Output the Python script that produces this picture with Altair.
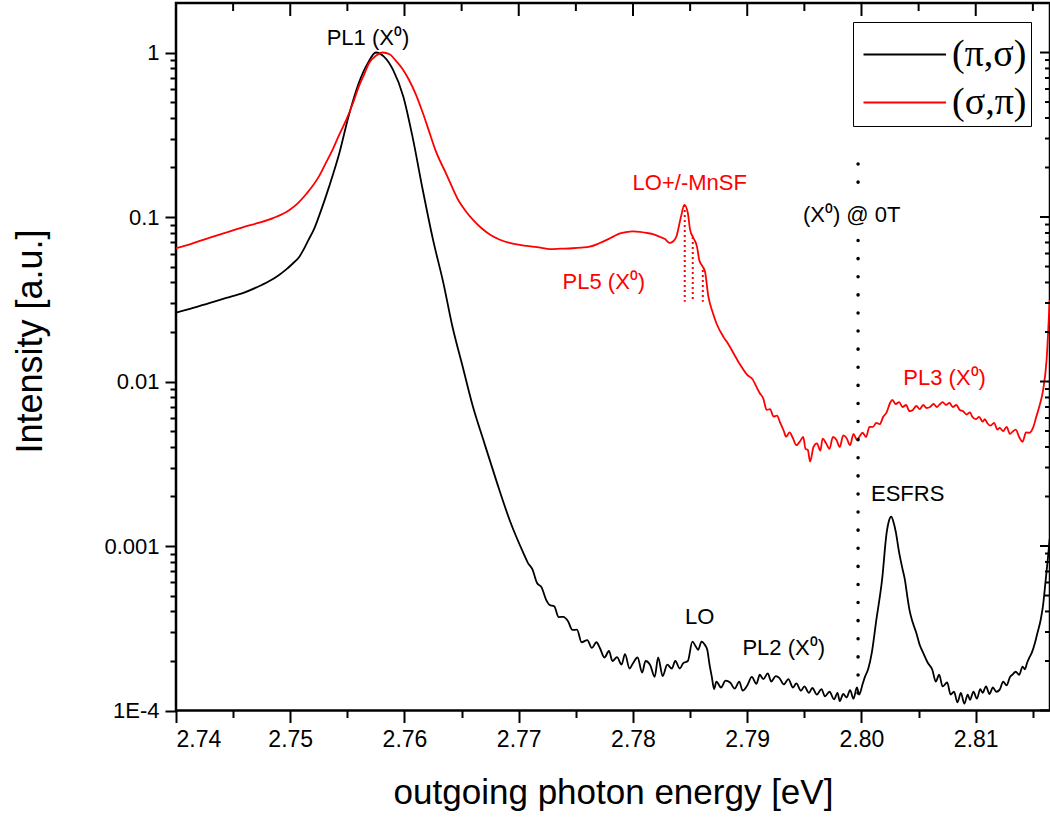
import altair as alt
import pandas as pd

# ---------------- data ----------------
E_black = [2.7400, 2.7415, 2.7429, 2.7444, 2.7459, 2.7470, 2.7481, 2.7489, 2.7496, 2.7502,
           2.7508, 2.7512, 2.7516, 2.7521, 2.7525, 2.7534, 2.7543, 2.7551, 2.7560, 2.7568,
           2.7575, 2.7582, 2.7590, 2.7599, 2.7607, 2.7616, 2.7625, 2.7634, 2.7642, 2.7651,
           2.7660, 2.7669, 2.7681, 2.7692, 2.7704, 2.7708, 2.7712, 2.7716, 2.7720, 2.7724,
           2.7727, 2.7731, 2.7735, 2.7739, 2.7743, 2.7747, 2.7751, 2.7755, 2.7760, 2.7764,
           2.7768, 2.7771, 2.7775, 2.7779, 2.7782, 2.7786, 2.7790, 2.7793, 2.7797, 2.7800,
           2.7804, 2.7808, 2.7811, 2.7815, 2.7819, 2.7822, 2.7826, 2.7830, 2.7834, 2.7837,
           2.7841, 2.7844, 2.7848, 2.7852, 2.7855, 2.7857, 2.7860, 2.7863, 2.7865, 2.7867,
           2.7869, 2.7871, 2.7873, 2.7877, 2.7881, 2.7885, 2.7889, 2.7893, 2.7896, 2.7900,
           2.7904, 2.7908, 2.7911, 2.7914, 2.7918, 2.7921, 2.7925, 2.7928, 2.7932, 2.7936,
           2.7940, 2.7943, 2.7947, 2.7950, 2.7954, 2.7957, 2.7961, 2.7965, 2.7968, 2.7972,
           2.7976, 2.7979, 2.7981, 2.7984, 2.7987, 2.7990, 2.7993, 2.7996, 2.7998, 2.8001,
           2.8003, 2.8006, 2.8009, 2.8013, 2.8018, 2.8022, 2.8024, 2.8026, 2.8028, 2.8030,
           2.8033, 2.8036, 2.8038, 2.8040, 2.8042, 2.8045, 2.8048, 2.8051, 2.8054, 2.8058,
           2.8062, 2.8065, 2.8068, 2.8071, 2.8075, 2.8078, 2.8081, 2.8084, 2.8087, 2.8090,
           2.8093, 2.8095, 2.8098, 2.8101, 2.8104, 2.8106, 2.8109, 2.8112, 2.8115, 2.8118,
           2.8121, 2.8124, 2.8127, 2.8130, 2.8132, 2.8135, 2.8138, 2.8141, 2.8143, 2.8145,
           2.8147, 2.8149, 2.8152, 2.8154, 2.8157, 2.8159, 2.8161, 2.8163, 2.81647]
I_black = [0.0262, 0.0280, 0.0300, 0.0322, 0.0346, 0.0372, 0.0405, 0.0438, 0.0477, 0.0520,
           0.0574, 0.0640, 0.0726, 0.0850, 0.1005, 0.153, 0.245, 0.408, 0.653, 0.865,
           1.0, 0.944, 0.784, 0.539, 0.308, 0.146, 0.0726, 0.0398, 0.0215, 0.01226,
           0.0070, 0.00442, 0.00242, 0.00144, 0.000908, 0.00079, 0.00072, 0.000596, 0.00056, 0.00047,
           0.000438, 0.00043, 0.00037, 0.000371, 0.00035, 0.000309, 0.00031, 0.00026, 0.000268, 0.00024,
           0.00026, 0.00024, 0.00021, 0.00023, 0.00020, 0.000211, 0.00019, 0.00022, 0.00018, 0.000194,
           0.00021, 0.00017, 0.00020, 0.000189, 0.00016, 0.00021, 0.000162, 0.00019, 0.00018, 0.00020,
           0.00018, 0.000194, 0.00020, 0.000262, 0.000245, 0.000234, 0.000262, 0.00025, 0.000234, 0.00019,
           0.00016, 0.000135, 0.00015, 0.000138, 0.000152, 0.000148, 0.000136, 0.00015, 0.000132, 0.000142,
           0.00016, 0.000145, 0.000165, 0.000155, 0.000168, 0.00015, 0.000162, 0.000158, 0.000144, 0.000155,
           0.000138, 0.000146, 0.000132, 0.00014, 0.000128, 0.000137, 0.000125, 0.000135, 0.000122, 0.00013,
           0.000117, 0.000128, 0.000114, 0.000126, 0.00012, 0.000133, 0.000118, 0.000138, 0.000125, 0.000145,
           0.00016, 0.00018, 0.000224, 0.000356, 0.000622, 0.0012, 0.00142, 0.00151, 0.0014, 0.00122,
           0.000908, 0.00072, 0.000622, 0.0005, 0.000409, 0.00034, 0.000296, 0.00025, 0.000224, 0.000195,
           0.000177, 0.00015, 0.000165, 0.00014, 0.000148, 0.000125, 0.00013, 0.000112, 0.000128, 0.00011,
           0.000125, 0.000116, 0.00013, 0.000118, 0.000135, 0.000128, 0.00014, 0.000126, 0.000138, 0.00013,
           0.000134, 0.00015, 0.000142, 0.00016, 0.000165, 0.000172, 0.000165, 0.000185, 0.000178, 0.000195,
           0.00021, 0.000224, 0.00026, 0.000296, 0.00036, 0.000440, 0.00060, 0.00082, 0.00110]

E_red = [2.7400, 2.7414, 2.7429, 2.7444, 2.7459, 2.7472, 2.7485, 2.7499, 2.7507, 2.7514,
         2.7525, 2.7531, 2.7537, 2.7543, 2.7549, 2.7555, 2.7560, 2.7565, 2.7569, 2.7575,
         2.7581, 2.7587, 2.7592, 2.7598, 2.7604, 2.7610, 2.7616, 2.7621, 2.7627, 2.7637,
         2.7647, 2.7653, 2.7660, 2.7667, 2.7675, 2.7683, 2.7692, 2.7702, 2.7712, 2.7720,
         2.7727, 2.7737, 2.7747, 2.7755, 2.7762, 2.7770, 2.7777, 2.7783, 2.7788, 2.7794,
         2.7800, 2.7806, 2.7812, 2.7818, 2.7823, 2.7828, 2.7832, 2.7835, 2.7838, 2.7842,
         2.7845, 2.7848, 2.7850, 2.7853, 2.7856, 2.7858, 2.7861, 2.7863, 2.7866, 2.7870,
         2.7873, 2.7879, 2.7882, 2.7888, 2.7893, 2.7900, 2.7905, 2.7908, 2.7911, 2.7914,
         2.7917, 2.7920, 2.7923, 2.7926, 2.7929, 2.7932, 2.7934, 2.7937, 2.7940, 2.7943,
         2.7946, 2.7949, 2.7951, 2.7953, 2.7955, 2.7958, 2.7961, 2.7964, 2.7966, 2.7969,
         2.7972, 2.7975, 2.7978, 2.7981, 2.7984, 2.7987, 2.7990, 2.7993, 2.7996, 2.7998,
         2.8001, 2.8004, 2.8007, 2.8010, 2.8013, 2.8016, 2.8019, 2.8022, 2.8025, 2.8027,
         2.8030, 2.8033, 2.8036, 2.8039, 2.8042, 2.8045, 2.8048, 2.8051, 2.8054, 2.8057,
         2.8060, 2.8063, 2.8066, 2.8068, 2.8071, 2.8074, 2.8077, 2.8080, 2.8083, 2.8086,
         2.8089, 2.8092, 2.8095, 2.8097, 2.8100, 2.8103, 2.8106, 2.8108, 2.8110, 2.8113,
         2.8116, 2.8119, 2.8121, 2.8124, 2.8127, 2.8130, 2.8132, 2.8135, 2.8138, 2.8141,
         2.8144, 2.8147, 2.8150, 2.8153, 2.8156, 2.8159, 2.8162, 2.81647]
I_red = [0.0646, 0.0690, 0.0746, 0.0805, 0.0868, 0.0920, 0.0985, 0.110, 0.122, 0.138,
         0.176, 0.212, 0.256, 0.318, 0.389, 0.495, 0.621, 0.745, 0.864, 0.955,
         1.0, 0.975, 0.90, 0.80, 0.681, 0.555, 0.43, 0.34, 0.256, 0.180,
         0.127, 0.110, 0.096, 0.086, 0.078, 0.073, 0.0696, 0.0675, 0.0661, 0.0650,
         0.0638, 0.0642, 0.0646, 0.0652, 0.066, 0.069, 0.0726, 0.0762, 0.0792, 0.081,
         0.0817, 0.0812, 0.080, 0.0785, 0.076, 0.0735, 0.0696, 0.071, 0.0761, 0.1005,
         0.1185, 0.1057, 0.0835, 0.0743, 0.0661, 0.0548, 0.0499, 0.0466, 0.0328, 0.026,
         0.0226, 0.01875, 0.01748, 0.01486, 0.01292, 0.01096, 0.01023, 0.0093, 0.00849, 0.0079,
         0.00672, 0.0068, 0.00612, 0.0062, 0.00558, 0.0050, 0.00462, 0.0049, 0.00452, 0.0041,
         0.00431, 0.0046, 0.0039, 0.00384, 0.00326, 0.0040, 0.00421, 0.0038, 0.0045, 0.00421,
         0.0039, 0.0046, 0.00442, 0.0040, 0.0047, 0.00452, 0.0041, 0.0048, 0.00442, 0.0046,
         0.00488, 0.0046, 0.0053, 0.0053, 0.0056, 0.0055, 0.0061, 0.0065, 0.0074, 0.00773,
         0.0073, 0.0075, 0.0070, 0.0072, 0.0066, 0.00672, 0.0071, 0.0068, 0.0072, 0.0069,
         0.0070, 0.0073, 0.0070, 0.00721, 0.0075, 0.0072, 0.00741, 0.0070, 0.0072, 0.00672,
         0.0066, 0.0063, 0.0065, 0.0061, 0.0059, 0.0061, 0.0057, 0.0059, 0.0056, 0.0054,
         0.0056, 0.0051, 0.00523, 0.0050, 0.0053, 0.0048, 0.00494, 0.0051, 0.0046, 0.0043,
         0.0049, 0.00488, 0.0052, 0.0061, 0.0072, 0.0089, 0.0135, 0.0313]

series_names = ["(π,σ)", "(σ,π)"]
series_colors = ["#000000", "#ff0000"]

ann_text = ["PL1 (X⁰)", "(X⁰) @ 0T", "ESFRS", "LO", "PL2 (X⁰)",
            "LO+/-MnSF", "PL5 (X⁰)", "PL3 (X⁰)"]
ann_E = [2.7568, 2.79914, 2.80404, 2.78584, 2.79319, 2.78497, 2.77745, 2.80728]
ann_I = [1.227, 0.103, 0.00207, 0.000371, 0.00024, 0.161, 0.0403, 0.0105]
ann_color = ["black", "black", "black", "black", "black", "red", "red", "red"]

x0_line_E = 2.7997
x0_seg_top = [0.21, 0.072]
x0_seg_bottom = [0.135, 0.0001]

mnsf_E = [2.78453, 2.78523, 2.78611]
mnsf_top = [0.1185, 0.0756, 0.0477]
mnsf_bottom = [0.0305, 0.0305, 0.0305]

x_major = [2.74, 2.75, 2.76, 2.77, 2.78, 2.79, 2.80, 2.81]
x_minor = [2.745, 2.755, 2.765, 2.775, 2.785, 2.795, 2.805, 2.815]
y_major = [1e-4, 1e-3, 1e-2, 1e-1, 1.0]
y_major_labels = ["1E-4", "0.001", "0.01", "0.1", "1"]
y_minor = [k * d for d in [1e-4, 1e-3, 1e-2, 1e-1] for k in range(2, 10)]

# ---------------- chart ----------------
W, H = 874, 707.5
xs = alt.Scale(domain=[2.74, 2.8165], nice=False, zero=False)
ys = alt.Scale(type="log", domain=[1e-4, 2.0], nice=False)

df = pd.concat([
    pd.DataFrame({"E": E_black, "I": I_black, "series": series_names[0]}),
    pd.DataFrame({"E": E_red, "I": I_red, "series": series_names[1]}),
])

is_major_x = "abs(datum.value*100 - round(datum.value*100)) < 0.001"
is_major_y = "abs(log(datum.value)/LN10 - round(log(datum.value)/LN10)) < 0.001"
ylab_expr = ""
for v, lab in zip(y_major, y_major_labels):
    ylab_expr += f"abs(datum.value - {v}) < {v*1e-3} ? '{lab}' : "
ylab_expr += "''"

x_axis = alt.Axis(
    values=sorted(x_major + x_minor),
    labelExpr=f"{is_major_x} ? format(datum.value, '.2f') : ''",
    tickSize={"condition": {"test": is_major_x, "value": 12}, "value": 7},
    tickWidth=2, tickColor="black", domain=False, grid=False,
    labelFont="Liberation Sans", labelFontSize=23, labelColor="black", labelPadding=6,
    labelOverlap=False,
    title="outgoing photon energy [eV]", titleFont="Liberation Sans", titleFontSize=35,
    titleFontWeight="normal", titleColor="black", titlePadding=24,
)
y_axis = alt.Axis(
    values=sorted(y_major + y_minor),
    labelExpr=ylab_expr,
    tickSize={"condition": {"test": is_major_y, "value": 11}, "value": 6},
    tickWidth=2, tickColor="black", domain=False, grid=False,
    labelFont="Liberation Sans", labelFontSize=22, labelColor="black", labelPadding=6,
    labelOverlap=False,
    title="Intensity [a.u.]", titleFont="Liberation Sans", titleFontSize=36,
    titleFontWeight="normal", titleColor="black", titleX=-146, titleY=338, titleBaseline="middle",
    titleAngle=270, titleAnchor="middle",
)

lines = alt.Chart(df).mark_line(strokeWidth=1.8, clip=True, interpolate="monotone").encode(
    x=alt.X("E:Q", scale=xs, axis=x_axis),
    y=alt.Y("I:Q", scale=ys, axis=y_axis),
    color=alt.Color("series:N", scale=alt.Scale(domain=series_names, range=series_colors),
                    legend=alt.Legend(orient="none", legendX=677, legendY=19, title=None,
                                      symbolType="M-0.8,0H2.2", symbolSize=3025,
                                      symbolStrokeWidth=2, symbolFillColor="transparent",
                                      labelFont="Liberation Serif", labelFontSize=38,
                                      labelColor="black", labelOffset=38,
                                      strokeColor="black", fillColor="white", padding=4,
                                      rowPadding=-9)),
)

x0_df = pd.DataFrame({"E": [x0_line_E] * len(x0_seg_top), "top": x0_seg_top, "bot": x0_seg_bottom})
x0_rule = alt.Chart(x0_df).mark_rule(color="black", strokeWidth=3.5, strokeDash=[0.1, 18],
                                     strokeCap="round").encode(
    x=alt.X("E:Q", scale=xs), y=alt.Y("top:Q", scale=ys), y2="bot:Q")

mnsf_df = pd.DataFrame({"E": mnsf_E, "top": mnsf_top, "bot": mnsf_bottom})
mnsf_rule = alt.Chart(mnsf_df).mark_rule(color="red", strokeWidth=2, strokeDash=[2, 3]).encode(
    x=alt.X("E:Q", scale=xs), y=alt.Y("top:Q", scale=ys), y2="bot:Q")

ann_df = pd.DataFrame({"E": ann_E, "I": ann_I, "t": ann_text, "c": ann_color})
texts = []
for col in ["black", "red"]:
    texts.append(alt.Chart(ann_df[ann_df.c == col]).mark_text(
        font="Liberation Sans", fontSize=22, color=col, align="center", baseline="middle").encode(
        x=alt.X("E:Q", scale=xs), y=alt.Y("I:Q", scale=ys), text="t:N"))

# mirrored ticks on top and right (pointing inward)
top_major = alt.Chart(pd.DataFrame({"E": x_major[1:]})).mark_rule(color="black", strokeWidth=2).encode(
    x=alt.X("E:Q", scale=xs), y=alt.value(0), y2=alt.value(13))
top_minor = alt.Chart(pd.DataFrame({"E": x_minor})).mark_rule(color="black", strokeWidth=2).encode(
    x=alt.X("E:Q", scale=xs), y=alt.value(0), y2=alt.value(8))
right_major = alt.Chart(pd.DataFrame({"I": y_major})).mark_rule(color="black", strokeWidth=2).encode(
    y=alt.Y("I:Q", scale=ys), x=alt.value(W), x2=alt.value(W - 10))
right_minor = alt.Chart(pd.DataFrame({"I": y_minor})).mark_rule(color="black", strokeWidth=2).encode(
    y=alt.Y("I:Q", scale=ys), x=alt.value(W), x2=alt.value(W - 5))

chart = alt.layer(
    lines, x0_rule, mnsf_rule, *texts, top_major, top_minor, right_major, right_minor
).properties(
    width=W, height=H, autosize="none",
    padding={"left": 176, "top": 3, "right": 0, "bottom": 114.5},
    background="white",
).configure_view(stroke="black", strokeWidth=2.5)

chart.save("out.html", embed_options={"renderer": "svg", "actions": False})
